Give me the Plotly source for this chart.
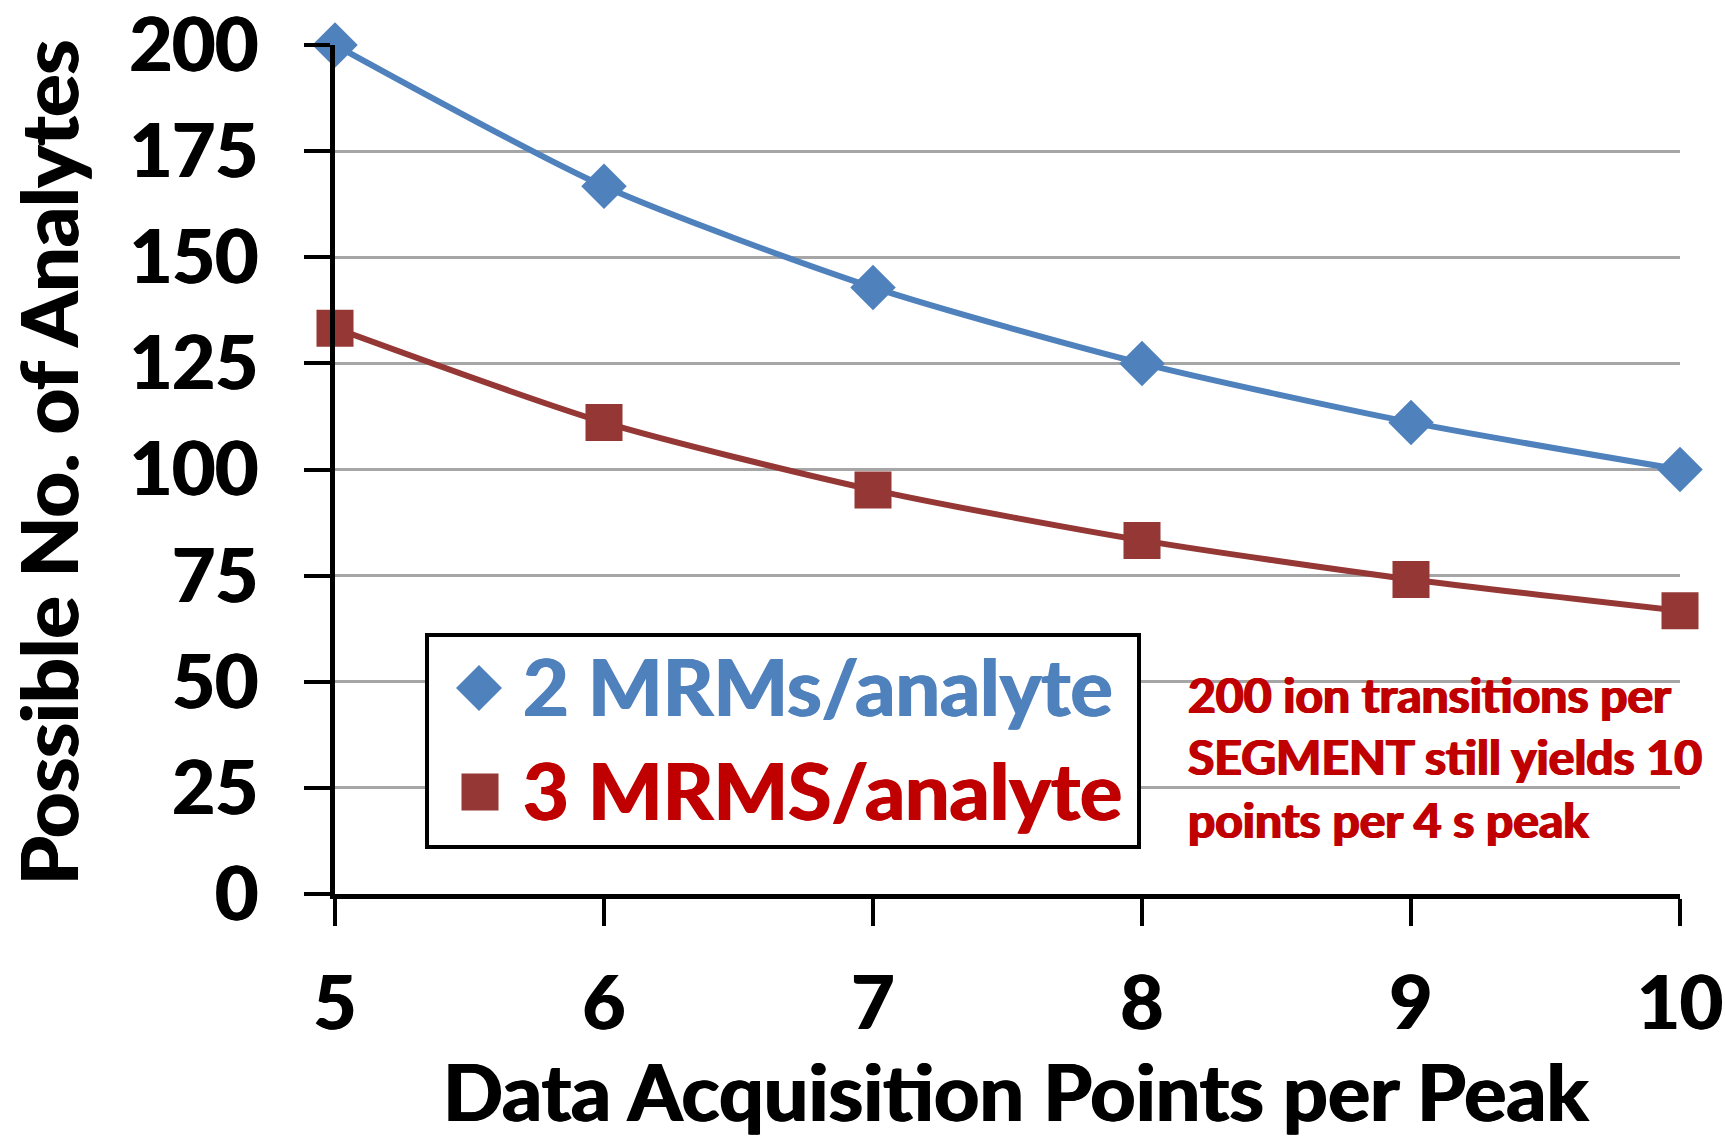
import plotly.graph_objects as go

# ---------------- data ----------------
points_per_peak = [5, 6, 7, 8, 9, 10]
mrm2_analytes = [200, 166.7, 142.9, 125, 111.1, 100]
mrm3_analytes = [133.3, 111.1, 95.2, 83.3, 74.1, 66.7]
series_names = ["2 MRMs/analyte", "3 MRMS/analyte"]
y_ticks = [0, 25, 50, 75, 100, 125, 150, 175, 200]
x_ticks = [5, 6, 7, 8, 9, 10]
note_lines = ["200 ion transitions per", "SEGMENT still yields 10", "points per 4 s peak"]
x_title = "Data Acquisition Points per Peak"
y_title = "Possible No. of Analytes"

# ---------------- layout constants ----------------
W, H = 1725, 1138
L, R, T, B = 335, 45, 45, 244
PW, PH = W - L - R, H - T - B
FONT = "Lato"
BLUE = "#4F81BD"
DARKRED = "#953735"
RED = "#C00000"


def bold_font(size, color):
    # slight text-shadow to thicken the strokes (closer to the heavy original face)
    return dict(family=FONT, size=size, color=color, weight="bold",
                shadow=f"1px 0 0 {color}, -1px 0 0 {color}")


def px(x):
    return (x - L) / PW


def py(y):
    return 1 - (y - T) / PH


fig = go.Figure()
fig.add_trace(go.Scatter(
    x=points_per_peak, y=mrm2_analytes, name=series_names[0],
    mode="lines+markers", line=dict(color=BLUE, width=6, shape="spline", smoothing=0.7),
    marker=dict(symbol="diamond", size=35, color=BLUE), cliponaxis=False, showlegend=False))
fig.add_trace(go.Scatter(
    x=points_per_peak, y=mrm3_analytes, name=series_names[1],
    mode="lines+markers", line=dict(color=DARKRED, width=6, shape="spline", smoothing=0.7),
    marker=dict(symbol="square", size=37, color=DARKRED), cliponaxis=False, showlegend=False))

# ---------------- manual legend (large keys) ----------------
shapes = []
annotations = []
box = (427, 635, 1139, 847)
shapes.append(dict(type="rect", xref="paper", yref="paper",
                   x0=px(box[0]), x1=px(box[2]), y0=py(box[3]), y1=py(box[1]),
                   line=dict(color="black", width=4), fillcolor="white", layer="above"))
# diamond key
cx, cy, hs = 479, 688, 23
dx, dy = hs / PW, hs / PH
X, Y = px(cx), py(cy)
shapes.append(dict(type="path", xref="paper", yref="paper",
                   path=f"M {X-dx},{Y} L {X},{Y+dy} L {X+dx},{Y} L {X},{Y-dy} Z",
                   fillcolor=BLUE, line=dict(width=0), layer="above"))
# square key
cx2, cy2, hs2 = 480, 792, 18.5
shapes.append(dict(type="rect", xref="paper", yref="paper",
                   x0=px(cx2 - hs2), x1=px(cx2 + hs2), y0=py(cy2 + hs2), y1=py(cy2 - hs2),
                   fillcolor=DARKRED, line=dict(width=0), layer="above"))
for name, col, yc in [(series_names[0], BLUE, 685), (series_names[1], RED, 789)]:
    annotations.append(dict(xref="paper", yref="paper", x=px(521), y=py(yc),
                            xanchor="left", yanchor="middle", showarrow=False, text=name,
                            font=bold_font(79, col)))

annotations.append(dict(xref="paper", yref="paper", x=px(1186), y=py(757),
                        xanchor="left", yanchor="middle", align="left", showarrow=False,
                        text="<br>".join(note_lines),
                        font=bold_font(48, RED)))

# axis titles
annotations.append(dict(xref="paper", yref="paper", x=px((L + W - R) / 2 + 8), y=py(1090),
                        xanchor="center", yanchor="middle", showarrow=False, text=x_title,
                        font=bold_font(79, "black")))
annotations.append(dict(xref="paper", yref="paper", x=px(48), y=py(463),
                        xanchor="center", yanchor="middle", showarrow=False, text=y_title,
                        textangle=-90, font=bold_font(79, "black")))

fig.update_layout(
    width=W, height=H,
    margin=dict(l=L, r=R, t=T, b=B, autoexpand=False),
    paper_bgcolor="white", plot_bgcolor="white",
    shapes=shapes, annotations=annotations,
    font=dict(family=FONT, color="black"),
)
fig.update_xaxes(
    range=[5, 10], tickvals=x_ticks, ticktext=[str(v) for v in x_ticks],
    showgrid=False, zeroline=False,
    showline=True, linecolor="black", linewidth=5,
    ticks="outside", ticklen=27, tickwidth=4, tickcolor="black",
    ticklabelstandoff=14, ticklabeloverflow="allow",
    tickfont=bold_font(74, "black"),
    automargin=False,
)
fig.update_yaxes(
    range=[0, 200], tickvals=y_ticks, ticktext=[str(v) for v in y_ticks],
    showgrid=True, gridcolor="#A6A6A6", gridwidth=3, zeroline=False,
    showline=True, linecolor="black", linewidth=5,
    ticks="outside", ticklen=26, tickwidth=4, tickcolor="black",
    ticklabelstandoff=31, ticklabeloverflow="allow",
    tickfont=bold_font(74, "black"),
    automargin=False,
)

fig.write_html("out.html")
